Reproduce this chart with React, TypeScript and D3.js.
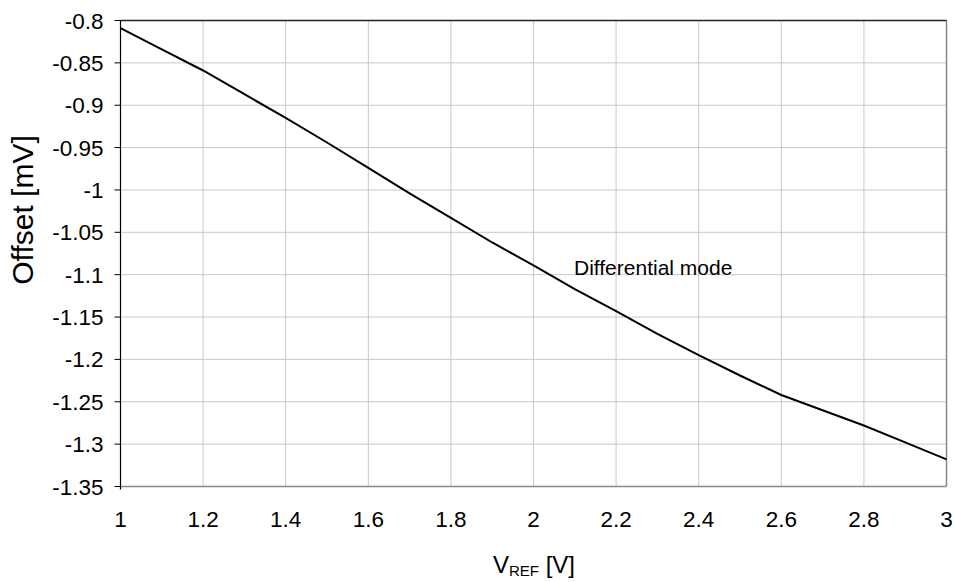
import React from "react";
import * as d3 from "d3";

const vref = [1.0, 1.1, 1.2, 1.3, 1.4, 1.5, 1.6, 1.7, 1.8, 1.9, 2.0, 2.1, 2.2, 2.3, 2.4, 2.5, 2.6, 2.7, 2.8, 2.9, 3.0];
const offset = [-0.809, -0.834, -0.859, -0.887, -0.915, -0.944, -0.974, -1.004, -1.033, -1.062, -1.089, -1.117, -1.143, -1.170, -1.195, -1.219, -1.242, -1.260, -1.278, -1.298, -1.318];
const xTicks = [1, 1.2, 1.4, 1.6, 1.8, 2, 2.2, 2.4, 2.6, 2.8, 3];
const yTicks = [-0.8, -0.85, -0.9, -0.95, -1, -1.05, -1.1, -1.15, -1.2, -1.25, -1.3, -1.35];
const annotation = "Differential mode";
const yTitle = "Offset [mV]";

const W = 954, H = 582;
const M = { left: 120.5, top: 20.5, right: 7.5, bottom: 95.5 };
const FONT = "'Liberation Sans', Arial, Helvetica, sans-serif";

export default function App() {
  const x = d3.scaleLinear().domain([1, 3]).range([M.left, W - M.right]);
  const y = d3.scaleLinear().domain([-1.35, -0.8]).range([H - M.bottom, M.top]);
  const line = d3.line<number>().x((_, i) => x(vref[i])).y((d) => y(d));
  const fmt = (v: number) => String(v);
  return (
    <svg width={W} height={H} style={{ position: "absolute", left: 0, top: 0, background: "#fff" }} fontFamily={FONT}>
      {xTicks.slice(1, -1).map((t) => (
        <line key={"gx" + t} x1={x(t)} x2={x(t)} y1={y(-0.8)} y2={y(-1.35)} stroke="#c8c8c8" strokeWidth={1} />
      ))}
      {yTicks.slice(1, -1).map((t) => (
        <line key={"gy" + t} x1={x(1)} x2={x(3)} y1={y(t)} y2={y(t)} stroke="#c8c8c8" strokeWidth={1} />
      ))}
      <line x1={x(1)} x2={x(3)} y1={y(-1.35)} y2={y(-1.35)} stroke="#888" strokeWidth={1.5} />
      <line x1={x(3)} x2={x(3)} y1={y(-0.8)} y2={y(-1.35)} stroke="#888" strokeWidth={1.5} />
      <line x1={x(1)} x2={x(3)} y1={y(-0.8)} y2={y(-0.8)} stroke="#222" strokeWidth={1.5} />
      <line x1={x(1)} x2={x(1)} y1={y(-0.8)} y2={y(-1.35) + 3} stroke="#000" strokeWidth={1.2} />
      {yTicks.map((t) => (
        <line key={"ty" + t} x1={x(1) - 6} x2={x(1)} y1={y(t)} y2={y(t)} stroke="#000" strokeWidth={1} />
      ))}
      <path d={line(offset) || ""} fill="none" stroke="#000" strokeWidth={2} />
      {yTicks.map((t) => (
        <text key={"ly" + t} x={x(1) - 17} y={y(t) + 8} textAnchor="end" fontSize={22.5} fill="#000">{fmt(t)}</text>
      ))}
      {xTicks.map((t) => (
        <text key={"lx" + t} x={x(t)} y={527} textAnchor="middle" fontSize={22.5} fill="#000">{fmt(t)}</text>
      ))}
      <text x={574} y={275} fontSize={21} fill="#000">{annotation}</text>
      <text x={534} y={573} textAnchor="middle" fontSize={24} fill="#000">
        V<tspan fontSize={15} dy={3}>REF</tspan><tspan dy={-3}> [V]</tspan>
      </text>
      <text transform="translate(33,210) rotate(-90)" textAnchor="middle" fontSize={30} fill="#000">{yTitle}</text>
    </svg>
  );
}
